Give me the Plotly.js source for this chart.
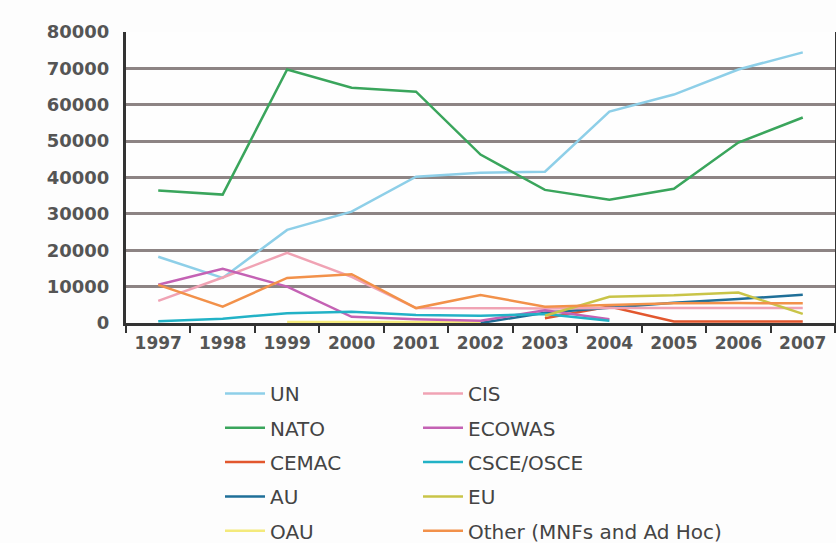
<!DOCTYPE html>
<html>
<head>
<meta charset="utf-8">
<script src="https://cdn.plot.ly/plotly-3.0.1.min.js"></script>
<style>html,body{margin:0;padding:0;background:#fdfdfd;}#chart{width:836px;height:543px;}</style>
</head>
<body>
<div id="chart"></div>
<script>
const years = ['1997','1998','1999','2000','2001','2002','2003','2004','2005','2006','2007'];
const yTicks = [0,10000,20000,30000,40000,50000,60000,70000,80000];

const UN      = [18200, 12400, 25600, 30600, 40200, 41300, 41600, 58100, 62800, 69700, 74400];
const NATO    = [36400, 35300, 69700, 64700, 63600, 46300, 36600, 33900, 36900, 49600, 56500];
const CEMAC   = [null, null, null, null, null, null, 1300, 4500, 400, 400, 400];
const AU      = [null, null, null, null, null, 0, 2800, 4200, 5600, 6600, 7800];
const OAU     = [null, null, 300, 300, 300, 300, null, null, null, null, null];
const CIS     = [6100, 12500, 19300, 12700, 4100, 4000, 4000, 4100, 4100, 4100, 4100];
const ECOWAS  = [10500, 14900, 10000, 1700, 1000, 600, 3500, 1000, null, null, null];
const CSCE    = [500, 1200, 2700, 3100, 2200, 2000, 2500, 600, null, null, null];
const EU      = [null, null, null, null, null, null, 2000, 7200, 7600, 8400, 2500];
const OTHER   = [10500, 4500, 12400, 13400, 4100, 7700, 4500, 5000, 5400, 5500, 5400];

const series = [
  {name:'UN', y:UN, color:'#8ecfe8', legend:'legend'},
  {name:'NATO', y:NATO, color:'#3aa55c', legend:'legend'},
  {name:'CEMAC', y:CEMAC, color:'#e2572e', legend:'legend'},
  {name:'AU', y:AU, color:'#1f6f98', legend:'legend'},
  {name:'OAU', y:OAU, color:'#f4ea7c', legend:'legend'},
  {name:'CIS', y:CIS, color:'#f0a3b4', legend:'legend2'},
  {name:'ECOWAS', y:ECOWAS, color:'#c462b4', legend:'legend2'},
  {name:'CSCE/OSCE', y:CSCE, color:'#22b2c6', legend:'legend2'},
  {name:'EU', y:EU, color:'#c9c448', legend:'legend2'},
  {name:'Other (MNFs and Ad Hoc)', y:OTHER, color:'#f2914a', legend:'legend2'}
];

const data = series.map((s,i)=>({
  type:'scatter', mode:'lines', x:years, y:s.y, name:s.name,
  line:{color:s.color, width:2.5}, cliponaxis:false, connectgaps:false,
  legend:s.legend, legendgroup:'g'+i, hoverinfo:'skip'
}));

const legendFont = {family:'DejaVu Sans', size:20, color:'#444'};
const legBase = {xref:'container', yref:'container', y:1-374/543, xanchor:'left', yanchor:'top',
  font:legendFont, bgcolor:'rgba(0,0,0,0)', traceorder:'grouped', tracegroupgap:5.3, itemwidth:40,
  borderwidth:0};
const layout = {
  width:836, height:543,
  paper_bgcolor:'#fdfdfd', plot_bgcolor:'#fefefe',
  margin:{l:126, r:1, t:32, b:220, autoexpand:false},
  showlegend:true,
  xaxis:{type:'category', range:[-0.5,10.5], showgrid:false, zeroline:false,
    showline:true, linecolor:'#333', linewidth:3, ticks:'outside', tickson:'boundaries',
    ticklen:7, tickwidth:2, tickcolor:'#333', layer:'below traces', tickangle:0,
    tickfont:{family:'DejaVu Sans', size:17, color:'#555', weight:'bold'}, ticklabelstandoff:3},
  yaxis:{range:[0,80000], tickvals:yTicks, ticktext:yTicks.map(String), showgrid:true,
    gridcolor:'#8d8484', gridwidth:3, zeroline:false, showline:true, mirror:true,
    linecolor:'#333', linewidth:3, ticks:'', layer:'below traces',
    tickfont:{family:'DejaVu Sans', size:18, color:'#555', weight:'bold'}, ticklabelstandoff:10},
  legend:Object.assign({}, legBase, {x:220/836}),
  legend2:Object.assign({}, legBase, {x:418/836})
};

Plotly.newPlot('chart', data, layout, {displayModeBar:false, staticPlot:true});
</script>
</body>
</html>
